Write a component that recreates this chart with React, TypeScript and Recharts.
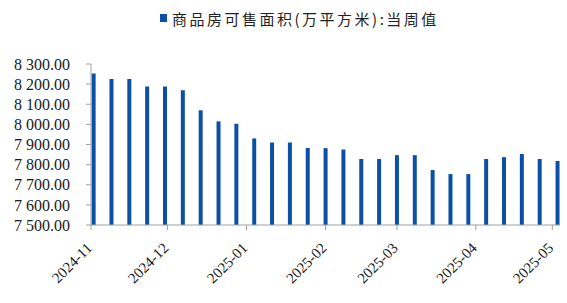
import React from "react";
import { BarChart, Bar, XAxis, YAxis, Legend } from "recharts";

const seriesName = "商品房可售面积(万平方米):当周值";

const weekDates = [
  "2024-11-02", "2024-11-09", "2024-11-16", "2024-11-23", "2024-11-30",
  "2024-12-07", "2024-12-14", "2024-12-21", "2024-12-28",
  "2025-01-04", "2025-01-11", "2025-01-18", "2025-01-25",
  "2025-02-01", "2025-02-08", "2025-02-15", "2025-02-22",
  "2025-03-01", "2025-03-08", "2025-03-15", "2025-03-22", "2025-03-29",
  "2025-04-05", "2025-04-12", "2025-04-19", "2025-04-26", "2025-05-03",
];

const weeklyValues = [
  8253, 8225, 8225, 8188, 8188,
  8170, 8070, 8015, 8003,
  7930, 7910, 7910, 7883,
  7882, 7875, 7828, 7828,
  7847, 7847, 7773, 7753, 7753,
  7828, 7837, 7853, 7828, 7818,
];

const monthTickLabels = [
  "2024-11", "2024-12", "2025-01", "2025-02", "2025-03", "2025-04", "2025-05",
];

const yTicks = [7500, 7600, 7700, 7800, 7900, 8000, 8100, 8200, 8300];

const START = Date.UTC(2024, 10, 1);
const DAY = 86400000;
const toDay = (s: string) => {
  const [y, m, d] = s.split("-").map(Number);
  return (Date.UTC(y, m - 1, d || 1) - START) / DAY;
};

const data = weekDates.map((d, i) => ({ t: toDay(d), v: weeklyValues[i] }));
const monthTicks = monthTickLabels.map(toDay);
const tickLabelByDay: Record<number, string> = {};
monthTickLabels.forEach((l, i) => (tickLabelByDay[monthTicks[i]] = l));

const fmtY = (v: number) => {
  const th = Math.floor(v / 1000);
  const rest = String(v % 1000).padStart(3, "0");
  return `${th} ${rest}.00`;
};

const BLUE = "#0B50A6";
const FONT = "'Liberation Serif', 'Times New Roman', serif";

const XTick = (props: any) => {
  const { x, y, payload } = props;
  const px = x + 2;
  const py = y + 17;
  return (
    <text
      x={px}
      y={py}
      transform={`rotate(-45, ${px}, ${py})`}
      textAnchor="end"
      fontFamily={FONT}
      fontSize={15}
      fill="#1a1a1a"
    >
      {tickLabelByDay[payload.value]}
    </text>
  );
};

const LegendContent = () => (
  <div
    style={{
      height: 20,
      width: 567,
      display: "flex",
      alignItems: "center",
      paddingLeft: 160,
      boxSizing: "border-box",
    }}
  >
    <span
      style={{
        display: "inline-block",
        width: 7,
        height: 8,
        background: BLUE,
        marginRight: 5,
      }}
    />
    <span
      style={{
        fontFamily: "'Noto Sans CJK SC', sans-serif",
        fontSize: 15,
        letterSpacing: 2.5,
        color: "#222",
        whiteSpace: "nowrap",
      }}
    >
      {seriesName}
    </span>
  </div>
);

export default function App() {
  return (
    <div style={{ position: "absolute", left: 0, top: 0, width: 567, height: 303, background: "#fff" }}>
      <BarChart
        width={567}
        height={303}
        data={data}
        margin={{ top: 44, right: 7, bottom: 0, left: 0 }}
      >
        <Legend
          verticalAlign="top"
          content={<LegendContent />}
          wrapperStyle={{ top: 8, left: 0, width: 567, height: 20 }}
        />
        <XAxis
          dataKey="t"
          type="number"
          scale="linear"
          domain={[0, 184]}
          ticks={monthTicks}
          interval={0}
          height={78}
          tickSize={5}
          tickMargin={2}
          axisLine={{ stroke: "#a0a0a0" }}
          tickLine={{ stroke: "#a0a0a0" }}
          tick={<XTick />}
          allowDataOverflow
        />
        <YAxis
          type="number"
          domain={[7500, 8300]}
          ticks={yTicks}
          interval={0}
          width={91}
          tickSize={5}
          tickMargin={16}
          axisLine={{ stroke: "#a0a0a0" }}
          tickLine={{ stroke: "#a0a0a0" }}
          tickFormatter={fmtY}
          tick={{ fontFamily: FONT, fontSize: 16, fill: "#1a1a1a" }}
          allowDataOverflow
        />
        <Bar dataKey="v" name={seriesName} fill={BLUE} barSize={4} isAnimationActive={false} />
      </BarChart>
    </div>
  );
}
